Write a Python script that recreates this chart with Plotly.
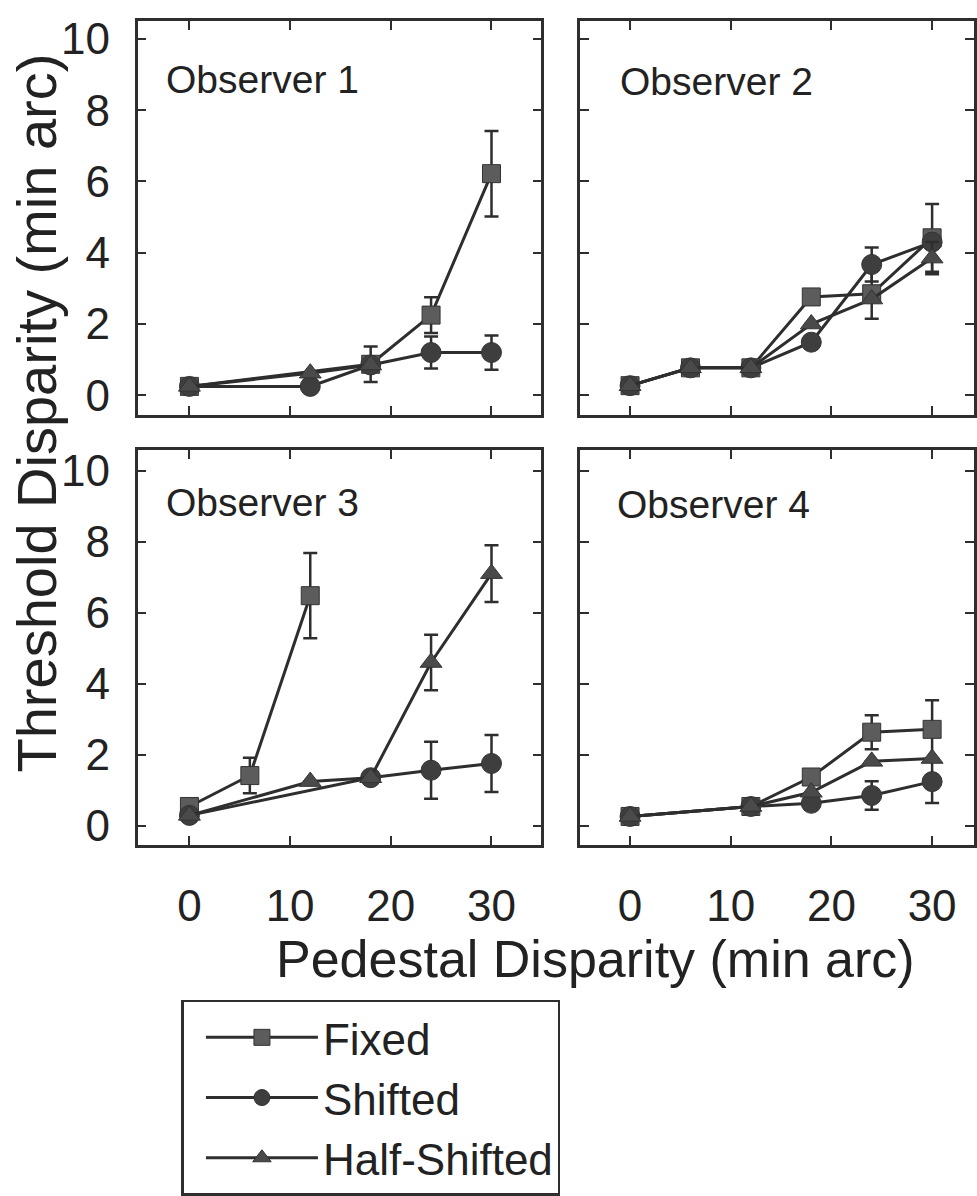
import plotly.graph_objects as go

# ---------------- data ----------------
observers = ["Observer 1", "Observer 2", "Observer 3", "Observer 4"]
conditions = ["Fixed", "Shifted", "Half-Shifted"]

# Observer 1
obs1_fixed_x = [0, 18, 24, 30]
obs1_fixed_y = [0.25, 0.87, 2.25, 6.22]
obs1_fixed_e = [0.0, 0.5, 0.5, 1.2]
obs1_shift_x = [0, 12, 18, 24, 30]
obs1_shift_y = [0.25, 0.25, 0.85, 1.2, 1.2]
obs1_shift_e = [0.0, 0.0, 0.0, 0.45, 0.48]
obs1_half_x = [0, 12, 18]
obs1_half_y = [0.25, 0.62, 0.85]
obs1_half_e = [0.0, 0.0, 0.0]

# Observer 2
obs2_fixed_x = [0, 6, 12, 18, 24, 30]
obs2_fixed_y = [0.27, 0.77, 0.77, 2.76, 2.85, 4.42]
obs2_fixed_e = [0.0, 0.0, 0.0, 0.0, 0.7, 0.95]
obs2_shift_x = [0, 6, 12, 18, 24, 30]
obs2_shift_y = [0.27, 0.77, 0.77, 1.49, 3.67, 4.3]
obs2_shift_e = [0.0, 0.0, 0.0, 0.0, 0.48, 0.0]
obs2_half_x = [0, 6, 12, 18, 24, 30]
obs2_half_y = [0.27, 0.77, 0.77, 2.0, 2.7, 3.85]
obs2_half_e = [0.0, 0.0, 0.0, 0.0, 0.0, 0.45]

# Observer 3
obs3_fixed_x = [0, 6, 12]
obs3_fixed_y = [0.55, 1.42, 6.48]
obs3_fixed_e = [0.0, 0.5, 1.2]
obs3_shift_x = [0, 18, 24, 30]
obs3_shift_y = [0.3, 1.36, 1.57, 1.76]
obs3_shift_e = [0.0, 0.0, 0.8, 0.8]
obs3_half_x = [0, 12, 18, 24, 30]
obs3_half_y = [0.3, 1.25, 1.36, 4.6, 7.1]
obs3_half_e = [0.0, 0.0, 0.0, 0.78, 0.8]

# Observer 4
obs4_fixed_x = [0, 12, 18, 24, 30]
obs4_fixed_y = [0.27, 0.55, 1.38, 2.64, 2.72]
obs4_fixed_e = [0.0, 0.0, 0.0, 0.48, 0.82]
obs4_shift_x = [0, 12, 18, 24, 30]
obs4_shift_y = [0.27, 0.55, 0.64, 0.86, 1.25]
obs4_shift_e = [0.0, 0.0, 0.0, 0.4, 0.6]
obs4_half_x = [0, 12, 18, 24, 30]
obs4_half_y = [0.27, 0.55, 0.95, 1.82, 1.9]
obs4_half_e = [0.0, 0.0, 0.0, 0.0, 0.0]

x_tickvals = [0, 10, 20, 30]
y_tickvals = [0, 2, 4, 6, 8, 10]

panels = [
    [(obs1_fixed_x, obs1_fixed_y, obs1_fixed_e), (obs1_shift_x, obs1_shift_y, obs1_shift_e), (obs1_half_x, obs1_half_y, obs1_half_e)],
    [(obs2_fixed_x, obs2_fixed_y, obs2_fixed_e), (obs2_shift_x, obs2_shift_y, obs2_shift_e), (obs2_half_x, obs2_half_y, obs2_half_e)],
    [(obs3_fixed_x, obs3_fixed_y, obs3_fixed_e), (obs3_shift_x, obs3_shift_y, obs3_shift_e), (obs3_half_x, obs3_half_y, obs3_half_e)],
    [(obs4_fixed_x, obs4_fixed_y, obs4_fixed_e), (obs4_shift_x, obs4_shift_y, obs4_shift_e), (obs4_half_x, obs4_half_y, obs4_half_e)],
]

# ---------------- style ----------------
W, H = 977, 1196
FONT = "Liberation Sans, Arial, sans-serif"
INK = "#2e2e2e"
TXT = "#222222"
symbols = ["square", "circle", "triangle-up"]
msizes = [18, 20, 19]
mcolors = ["#5c5c5c", "#3e3e3e", "#4a4a4a"]

# panel pixel boxes (left, right, top, bottom)
boxes = [(138, 543, 15, 422), (582, 977, 15, 422), (138, 543, 459, 868), (582, 977, 459, 868)]
xranges = [[-5.15, 34.95], [-4.95, 34.16], [-5.15, 34.95], [-4.95, 34.16]]
yranges = [[-0.54, 10.49], [-0.54, 10.49], [-0.54, 10.57], [-0.54, 10.57]]
label_pos = [(165, 75), (620, 77), (165, 513), (617, 515)]

fig = go.Figure()

for p in range(4):
    ax = "" if p == 0 else str(p + 1)
    for c in range(3):
        xs, ys, es = panels[p][c]
        fig.add_trace(go.Scatter(
            x=xs, y=ys, name=conditions[c],
            mode="lines+markers",
            line=dict(color=INK, width=3),
            marker=dict(symbol=symbols[c], size=msizes[c], color=mcolors[c],
                        line=dict(color="#333333", width=1)),
            error_y=dict(type="data", array=es, visible=True, color=INK,
                         thickness=2.5, width=7),
            xaxis="x" + ax, yaxis="y" + ax,
            showlegend=(p == 0), legendgroup=conditions[c],
        ))

layout = dict(
    width=W, height=H,
    margin=dict(l=0, r=0, t=0, b=0),
    paper_bgcolor="white", plot_bgcolor="white",
    font=dict(family=FONT, color=TXT, size=44),
    showlegend=True,
    legend=dict(
        x=182 / W, y=1 - 1028 / H, xanchor="left", yanchor="top",
        bgcolor="white", bordercolor=INK, borderwidth=2.5,
        font=dict(family=FONT, size=44, color=TXT),
        itemwidth=112, indentation=17, tracegroupgap=0,
    ),
)

for p in range(4):
    l, r, t, b = boxes[p]
    xk = "xaxis" if p == 0 else "xaxis%d" % (p + 1)
    yk = "yaxis" if p == 0 else "yaxis%d" % (p + 1)
    xa = "x" if p == 0 else "x%d" % (p + 1)
    ya = "y" if p == 0 else "y%d" % (p + 1)
    layout[xk] = dict(
        domain=[l / W, r / W], range=xranges[p], anchor=ya,
        tickvals=x_tickvals, ticks="inside", ticklen=9, tickwidth=2, tickcolor=INK,
        showline=True, linewidth=2.5, linecolor=INK, mirror="ticks",
        showgrid=False, zeroline=False,
        showticklabels=(p >= 2), tickfont=dict(size=44, color=TXT),
        ticklabelstandoff=20,
    )
    layout[yk] = dict(
        domain=[1 - b / H, 1 - t / H], range=yranges[p], anchor=xa,
        tickvals=y_tickvals, ticks="inside", ticklen=9, tickwidth=2, tickcolor=INK,
        showline=True, linewidth=2.5, linecolor=INK, mirror="ticks",
        showgrid=False, zeroline=False,
        showticklabels=(p % 2 == 0), tickfont=dict(size=44, color=TXT),
        ticklabelstandoff=16,
    )

annotations = []
for p in range(4):
    lx, ly = label_pos[p]
    annotations.append(dict(
        text=observers[p], x=lx / W, y=1 - ly / H, xref="paper", yref="paper",
        xanchor="left", yanchor="middle", showarrow=False,
        font=dict(family=FONT, size=39, color=TXT),
    ))
annotations.append(dict(
    text="Pedestal Disparity (min arc)", x=597 / W, y=1 - 986 / H,
    xref="paper", yref="paper", xanchor="center", yanchor="middle",
    showarrow=False, font=dict(family=FONT, size=52, color=TXT),
))
annotations.append(dict(
    text="Threshold Disparity (min arc)", x=37 / W, y=1 - 420 / H,
    xref="paper", yref="paper", xanchor="center", yanchor="middle",
    textangle=-90, showarrow=False, font=dict(family=FONT, size=56, color=TXT),
))
layout["annotations"] = annotations

fig.update_layout(**layout)
fig.write_html("out.html")
